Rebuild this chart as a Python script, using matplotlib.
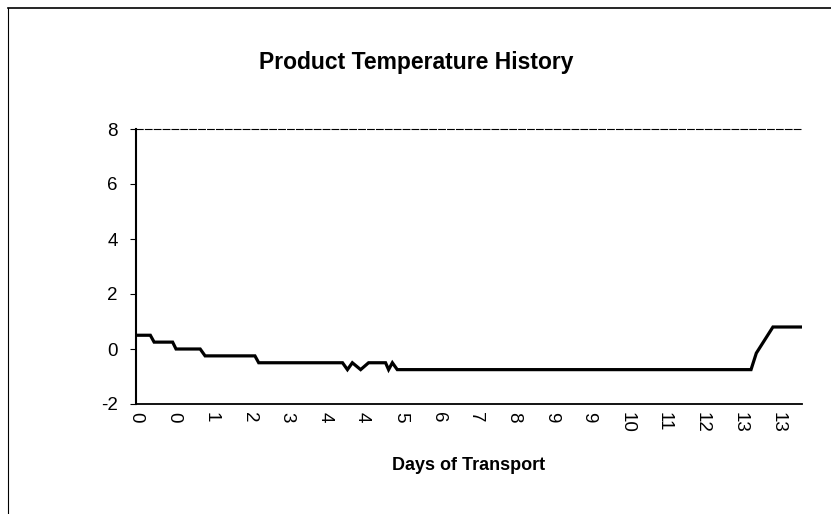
import matplotlib
matplotlib.use("Agg")
import matplotlib.pyplot as plt
from matplotlib.lines import Line2D

plt.rcParams['font.family'] = ['Liberation Sans', 'DejaVu Sans']

# Position along the category axis (in tick-label units) and product temperature
x_pos = [0.0, 0.38, 0.48, 0.97, 1.06, 1.70, 1.83, 3.15, 3.25, 5.47, 5.60, 5.73,
         5.95, 6.16, 6.61, 6.69, 6.79, 6.92, 16.29, 16.43, 16.87, 17.64]
temps = [0.5, 0.5, 0.25, 0.25, 0.0, 0.0, -0.25, -0.25, -0.5, -0.5, -0.75, -0.5,
         -0.75, -0.5, -0.5, -0.75, -0.5, -0.75, -0.75, -0.15, 0.8, 0.8]

tick_labels = ["0", "0", "1", "2", "3", "4", "4", "5", "6", "7", "8", "9", "9",
               "10", "11", "12", "13", "13"]
y_ticks = [-2, 0, 2, 4, 6, 8]

W, H = 831, 514
fig = plt.figure(figsize=(W / 100, H / 100), dpi=100)

# chart-area border (left and top visible)
fig.add_artist(Line2D([8 / W, 8 / W], [0, 1 - 8 / H], color='black', lw=0.8,
                      transform=fig.transFigure))
fig.add_artist(Line2D([8 / W, 1], [1 - 8 / H, 1 - 8 / H], color='black', lw=1.2,
                      transform=fig.transFigure))

left, right = 136 / W, 802 / W
bottom, top = 1 - 404 / H, 1 - 129 / H
ax = fig.add_axes([left, bottom, right - left, top - bottom])

ax.plot(x_pos, temps, color='black', lw=2.3, solid_joinstyle='miter')

ax.set_xlim(0, 17.64)
ax.set_ylim(-2, 8)
ax.set_yticks(y_ticks)
ax.set_yticklabels([str(v) for v in y_ticks], fontsize=13.5)
ax.set_xticks(range(len(tick_labels)))
ax.set_xticklabels(tick_labels, rotation=-90, fontsize=13.5, va='top', ha='center')
ax.tick_params(axis='x', length=0, pad=6)
ax.tick_params(axis='y', length=4, direction='out', width=0.8, pad=9)

ax.spines['right'].set_visible(False)
ax.spines['top'].set_linestyle((0, (6, 2)))
ax.spines['top'].set_linewidth(0.8)
ax.spines['left'].set_linewidth(1.5)
ax.spines['bottom'].set_linewidth(1.3)

fig.text(416 / W, 1 - 62 / H, "Product Temperature History", ha='center', va='center',
         fontsize=16.5, fontweight='bold')
fig.text(469 / W, 1 - 466 / H, "Days of Transport", ha='center', va='center',
         fontsize=13, fontweight='bold')

fig.savefig("out.png", dpi=100)
